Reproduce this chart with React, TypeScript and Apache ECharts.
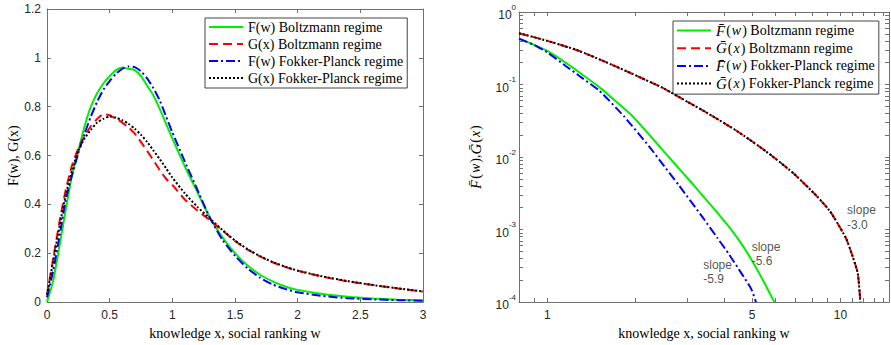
import React, { useEffect, useRef } from 'react';
import * as echarts from 'echarts';

const SANS = '"Liberation Sans", Arial, Helvetica, sans-serif';
const SERIF = '"Liberation Serif", "Times New Roman", serif';
const AXIS = '#707070';
const TXT = '#262626';

// ---------- left panel: densities ----------
const leftX = [0, 0.05, 0.1, 0.15, 0.2, 0.25, 0.3, 0.35, 0.4, 0.45, 0.5, 0.55, 0.6, 0.65, 0.7, 0.75, 0.8, 0.85, 0.9, 0.95, 1.0, 1.1, 1.2, 1.3, 1.4, 1.5, 1.6, 1.7, 1.8, 1.9, 2.0, 2.2, 2.4, 2.6, 2.8, 3.0];
const fBoltz = [0, 0.09, 0.23, 0.38, 0.52, 0.62, 0.72, 0.80, 0.855, 0.895, 0.925, 0.95, 0.96, 0.955, 0.95, 0.925, 0.885, 0.845, 0.79, 0.73, 0.67, 0.555, 0.45, 0.345, 0.265, 0.2, 0.15, 0.112, 0.085, 0.064, 0.05, 0.033, 0.022, 0.015, 0.01, 0.007];
const gBoltz = [0.03, 0.18, 0.33, 0.46, 0.56, 0.63, 0.68, 0.72, 0.75, 0.77, 0.765, 0.75, 0.735, 0.715, 0.69, 0.655, 0.618, 0.58, 0.54, 0.505, 0.48, 0.42, 0.375, 0.335, 0.293, 0.25, 0.215, 0.187, 0.163, 0.144, 0.128, 0.104, 0.085, 0.07, 0.056, 0.043];
const fFP = [0.02, 0.13, 0.27, 0.42, 0.52, 0.61, 0.69, 0.76, 0.82, 0.87, 0.905, 0.935, 0.955, 0.965, 0.962, 0.945, 0.915, 0.875, 0.825, 0.76, 0.695, 0.575, 0.46, 0.345, 0.255, 0.19, 0.138, 0.1, 0.072, 0.054, 0.04, 0.025, 0.016, 0.011, 0.008, 0.005];
const gFP = [0.03, 0.17, 0.31, 0.44, 0.54, 0.62, 0.67, 0.705, 0.735, 0.75, 0.76, 0.755, 0.745, 0.73, 0.71, 0.685, 0.655, 0.62, 0.585, 0.548, 0.51, 0.445, 0.39, 0.342, 0.295, 0.252, 0.217, 0.188, 0.164, 0.145, 0.129, 0.105, 0.086, 0.07, 0.056, 0.044];
const leftNames = ['F(w) Boltzmann regime', 'G(x) Boltzmann regime', 'F(w) Fokker-Planck regime', 'G(x) Fokker-Planck regime'];

// ---------- right panel: tails (log-log) ----------
const rFbX = [0.8, 0.9, 1.0, 1.16, 1.3, 1.5, 1.75, 1.96, 2.23, 2.44, 2.82, 3.2, 3.62, 4.18, 4.59, 4.96, 5.46, 5.95];
const rFbY = [0.43, 0.353, 0.29, 0.197, 0.142, 0.0928, 0.0542, 0.036, 0.0202, 0.0133, 0.00687, 0.00384, 0.00215, 0.00107, 0.00064, 0.00039, 0.000196, 0.0001];
const rFfX = [0.8, 0.9, 1.0, 1.158, 1.3, 1.505, 1.83, 2.23, 2.44, 2.82, 3.39, 3.81, 4.18, 4.59, 4.96, 5.15];
const rFfY = [0.43, 0.351, 0.277, 0.179, 0.127, 0.0819, 0.036, 0.0138, 0.0086, 0.004, 0.00147, 0.00076, 0.000448, 0.000251, 0.000152, 0.0001];
const rGbX = [0.8, 1.0, 1.27, 1.6, 1.96, 2.5, 3.0, 3.53, 4.46, 5.57, 6.87, 8.37, 9.2, 9.79, 10.45, 11.0, 11.46, 11.7];
const rGbY = [0.51, 0.40, 0.295, 0.2, 0.139, 0.088, 0.058, 0.040, 0.0225, 0.012, 0.0061, 0.0028, 0.0018, 0.00121, 0.00076, 0.00043, 0.00025, 0.0001];
const rGfX = [0.8, 1.0, 1.27, 1.6, 1.96, 2.5, 3.0, 3.53, 4.46, 5.57, 6.87, 8.37, 9.2, 9.79, 10.45, 11.0, 11.46, 11.7];
const rGfY = [0.51, 0.40, 0.295, 0.2, 0.139, 0.088, 0.058, 0.040, 0.0225, 0.012, 0.0061, 0.0028, 0.0018, 0.00121, 0.00076, 0.00043, 0.00025, 0.0001];
const rightNames = ['rFB', 'rGB', 'rFF', 'rGF'];
const rightLegendText: Record<string, string> = {
  rFB: '{c|F\u0304}{r|(}{i|w}{r|) Boltzmann regime}',
  rGB: '{c|G\u0304}{r|(}{i|x}{r|) Boltzmann regime}',
  rFF: '{c|F\u0304}{r|(}{i|w}{r|) Fokker-Planck regime}',
  rGF: '{c|G\u0304}{r|(}{i|x}{r|) Fokker-Planck regime}',
};
const rightYName = '{c|F\u0304}{r|(}{i|w}{r|),}{c|G\u0304}{r|(}{i|x}{r|)}';

const rightXTicks = [0.9, 1, 2, 3, 4, 5, 6, 7, 8, 9, 10, 11, 12, 13, 14];
const rightXLabels = [1, 5, 10];
const rightYExps = [-4, -3, -2, -1, 0];
const rightXMin = 0.8;
const rightXMax = 14.65;

// annotations
const annX = [10.5, 4.96, 3.39];
const annY = [0.00147, 0.00046, 0.00026];
const annText = ['slope\n-3.0', 'slope\n-5.6', 'slope\n-5.9'];

const lg = (v: number) => Math.log10(v);

const COLORS = { green: '#00ee00', red: '#ff0000', blue: '#0000ff', black: '#000000' };
const DASH: Record<string, any> = {
  solid: 'solid',
  dashed: [9, 5],
  dashdot: [9, 3, 2, 3],
  dotted: [2, 2],
};

function mkLine(name: string, data: number[][], color: string, dash: any, xi: number, yi: number, z: number) {
  return {
    type: 'line',
    name,
    data,
    xAxisIndex: xi,
    yAxisIndex: yi,
    symbol: 'none',
    showSymbol: false,
    smooth: 0.2,
    lineStyle: { color, width: 2, type: dash },
    itemStyle: { color },
    z,
    silent: true,
  };
}

function baseAxis(extra: any) {
  return {
    type: 'value',
    axisLine: { show: true, onZero: false, lineStyle: { color: AXIS, width: 1 } },
    axisTick: { show: true, inside: true, length: 4, lineStyle: { color: AXIS } },
    splitLine: { show: false },
    ...extra,
  };
}

function buildOption() {
  const leftData = (ys: number[]) => leftX.map((x, i) => [x, ys[i]]);
  const rightData = (xs: number[], ys: number[]) => xs.map((x, i) => [lg(x), lg(ys[i])]);
  const yMinor: number[] = [];
  [-4, -3, -2, -1].forEach((n) => {
    for (let k = 1; k <= 9; k++) yMinor.push(n + lg(k));
  });
  yMinor.push(0);
  const xTickVals = rightXTicks.map(lg);
  const labelStyle = { color: TXT, fontFamily: SANS, fontSize: 12 };
  const nameStyle = { fontFamily: SERIF, fontSize: 14, color: '#000' };
  const mathRich = {
    c: { fontFamily: SERIF, fontSize: 15, fontStyle: 'italic', color: '#000', padding: [0, 1, 0, 0] },
    i: { fontFamily: SERIF, fontSize: 14, fontStyle: 'italic', color: '#000', padding: [0, 1, 0, 1] },
    r: { fontFamily: SERIF, fontSize: 14, color: '#000' },
  };
  const legendCommon = {
    orient: 'vertical',
    itemWidth: 34, itemHeight: 14, itemTextGap: 4,
    padding: [2, 4, 3, 3], backgroundColor: '#fff', borderColor: '#444', borderWidth: 1,
    selectedMode: false,
    itemStyle: { color: 'rgba(0,0,0,0)', borderColor: 'rgba(0,0,0,0)', borderWidth: 0 },
  };

  return {
    animation: false,
    backgroundColor: '#ffffff',
    grid: [
      { left: 47, top: 9, width: 376, height: 296, containLabel: false },
      { left: 519, top: 12, width: 370, height: 294, containLabel: false },
    ],
    xAxis: [
      baseAxis({
        gridIndex: 0, min: 0, max: 3, interval: 0.5, position: 'bottom',
        axisLabel: { ...labelStyle, margin: 7 },
        name: 'knowledge x, social ranking w', nameLocation: 'middle', nameGap: 21, nameTextStyle: nameStyle,
      }),
      baseAxis({ gridIndex: 0, min: 0, max: 3, interval: 0.5, position: 'top', axisLabel: { show: false } }),
      baseAxis({
        gridIndex: 1, min: lg(rightXMin), max: lg(rightXMax), position: 'bottom',
        axisTick: { show: true, inside: true, length: 4, lineStyle: { color: AXIS }, customValues: xTickVals },
        axisLabel: { ...labelStyle, margin: 7, customValues: rightXLabels.map(lg), formatter: (v: number) => String(Math.round(Math.pow(10, v))) },
        name: 'knowledge x, social ranking w', nameLocation: 'middle', nameGap: 20, nameTextStyle: nameStyle,
      }),
      baseAxis({
        gridIndex: 1, min: lg(rightXMin), max: lg(rightXMax), position: 'top',
        axisTick: { show: true, inside: true, length: 4, lineStyle: { color: AXIS }, customValues: xTickVals },
        axisLabel: { show: false },
      }),
    ],
    yAxis: [
      baseAxis({
        gridIndex: 0, min: 0, max: 1.2, interval: 0.2, position: 'left',
        axisLabel: { ...labelStyle, margin: 6 },
        name: 'F(w), G(x)', nameLocation: 'middle', nameGap: 26, nameTextStyle: nameStyle,
      }),
      baseAxis({ gridIndex: 0, min: 0, max: 1.2, interval: 0.2, position: 'right', axisLabel: { show: false } }),
      baseAxis({
        gridIndex: 1, min: -4, max: 0, position: 'left',
        axisTick: { show: true, inside: true, length: 4, lineStyle: { color: AXIS }, customValues: yMinor },
        axisLabel: {
          margin: 3,
          customValues: rightYExps,
          formatter: (v: number) => `{b|10}{s|${Math.round(v)}}`,
          rich: {
            b: { fontFamily: SANS, fontSize: 12, color: TXT, verticalAlign: 'bottom', lineHeight: 18 },
            s: { fontFamily: SANS, fontSize: 8, color: TXT, verticalAlign: 'top', lineHeight: 18 },
          },
        },
        name: rightYName, nameLocation: 'middle', nameGap: 36,
        nameTextStyle: { ...nameStyle, rich: mathRich },
      }),
      baseAxis({
        gridIndex: 1, min: -4, max: 0, position: 'right',
        axisTick: { show: true, inside: true, length: 4, lineStyle: { color: AXIS }, customValues: yMinor },
        axisLabel: { show: false },
      }),
    ],
    legend: [
      {
        ...legendCommon,
        data: leftNames, left: 205, top: 18, itemGap: 3,
        textStyle: { fontFamily: SERIF, fontSize: 14, color: '#000' },
      },
      {
        ...legendCommon,
        data: rightNames, left: 673, top: 21, itemGap: 2.7,
        formatter: (n: string) => rightLegendText[n] || n,
        textStyle: { fontFamily: SERIF, fontSize: 14, color: '#000', rich: mathRich },
      },
    ],
    series: [
      mkLine(leftNames[0], leftData(fBoltz), COLORS.green, DASH.solid, 0, 0, 2),
      mkLine(leftNames[1], leftData(gBoltz), COLORS.red, DASH.dashed, 0, 0, 3),
      mkLine(leftNames[2], leftData(fFP), COLORS.blue, DASH.dashdot, 0, 0, 4),
      mkLine(leftNames[3], leftData(gFP), COLORS.black, DASH.dotted, 0, 0, 5),
      mkLine(rightNames[0], rightData(rFbX, rFbY), COLORS.green, DASH.solid, 2, 2, 2),
      mkLine(rightNames[1], rightData(rGbX, rGbY), COLORS.red, DASH.dashed, 2, 2, 3),
      mkLine(rightNames[2], rightData(rFfX, rFfY), COLORS.blue, DASH.dashdot, 2, 2, 4),
      mkLine(rightNames[3], rightData(rGfX, rGfY), COLORS.black, DASH.dotted, 2, 2, 5),
      {
        type: 'scatter',
        name: 'annotations',
        xAxisIndex: 2,
        yAxisIndex: 2,
        symbolSize: 1,
        itemStyle: { color: 'rgba(0,0,0,0)' },
        silent: true,
        z: 6,
        data: annX.map((x, i) => ({ value: [lg(x), lg(annY[i])], label: { formatter: annText[i] } })),
        label: { show: true, position: 'right', distance: 0, fontFamily: SANS, fontSize: 12, color: TXT, lineHeight: 14.5, align: 'left' },
      },
    ],
  };
}

export default function App() {
  const ref = useRef<HTMLDivElement>(null);
  useEffect(() => {
    if (!ref.current) return;
    const chart = echarts.init(ref.current, null, { renderer: 'svg' });
    chart.setOption(buildOption() as any);
    return () => chart.dispose();
  }, []);
  return (
    <div
      ref={ref}
      style={{ position: 'fixed', left: 0, top: 0, width: 891, height: 345, background: '#fff' }}
    />
  );
}
